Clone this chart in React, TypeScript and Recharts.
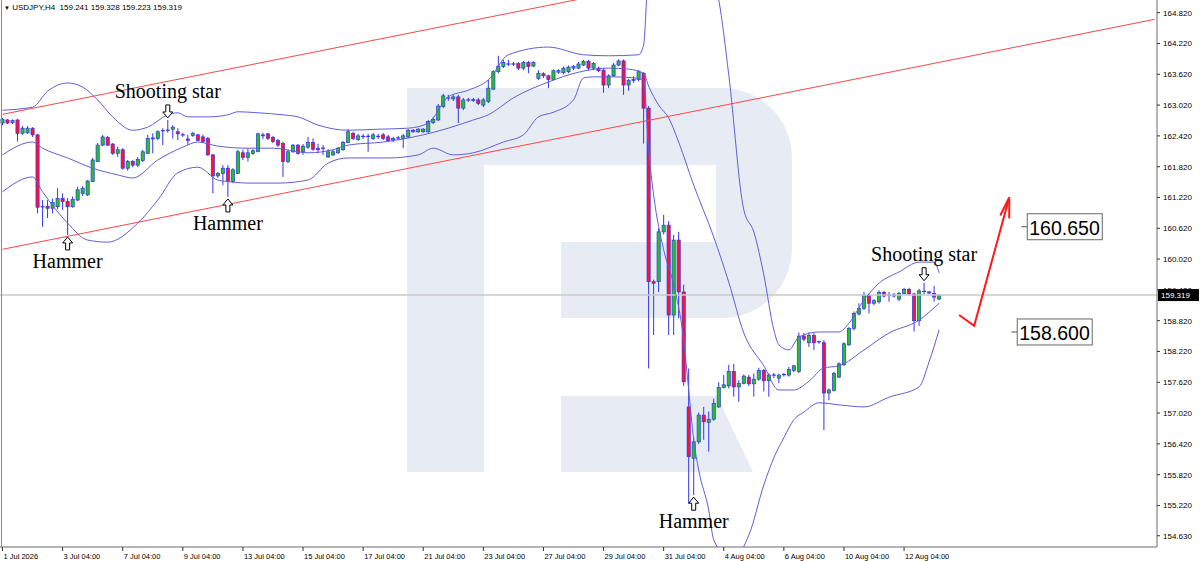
import React from "react";
import {
  Bar,
  ComposedChart,
  Line,
  ReferenceDot,
  ReferenceLine,
  XAxis,
  YAxis,
} from "recharts";

// USDJPY H4 candles (price units)
const OPEN = [
  162.67, 162.73, 162.68, 162.73, 162.47, 162.48, 162.57, 162.44, 161.03, 161.05,
  161.01, 161.04, 161.2, 161.14, 161.04, 161.17, 161.3, 161.27, 161.53, 161.92,
  162.24, 162.39, 162.26, 162.08, 162.15, 161.79, 161.92, 161.85, 161.94, 162.08,
  162.36, 162.37, 162.51, 162.52, 162.55, 162.5, 162.44, 162.36, 162.43, 162.44,
  162.4, 162.37, 162.05, 161.64, 161.69, 161.79, 161.53, 161.69, 162.09, 162.0,
  162.08, 162.11, 162.44, 162.46, 162.39, 162.33, 162.27, 161.92, 162.11, 162.24,
  162.11, 162.2, 162.29, 162.18, 162.17, 162.01, 162.05, 162.09, 162.15, 162.29,
  162.47, 162.35, 162.4, 162.41, 162.37, 162.41, 162.44, 162.4, 162.34, 162.37,
  162.37, 162.4, 162.53, 162.5, 162.5, 162.5, 162.68, 162.73, 162.99, 163.15,
  163.14, 163.18, 162.96, 163.12, 163.11, 163.12, 163.02, 163.09, 163.33, 163.67,
  163.77, 163.82, 163.81, 163.83, 163.74, 163.85, 163.78, 163.54, 163.63, 163.59,
  163.52, 163.66, 163.65, 163.67, 163.74, 163.74, 163.8, 163.87, 163.74, 163.74,
  163.7, 163.41, 163.59, 163.8, 163.88, 163.41, 163.5, 163.52, 163.64, 162.96,
  159.58, 159.58, 160.55, 160.68, 158.93, 160.39, 159.38, 157.14, 156.14, 156.46,
  156.98, 156.84, 156.9, 157.14, 157.52, 157.55, 157.83, 157.53, 157.6, 157.72,
  157.59, 157.68, 157.85, 157.65, 157.76, 157.7, 157.76, 157.76, 157.85, 157.83,
  158.52, 158.39, 158.53, 158.41, 158.39, 157.41, 157.46, 157.72, 157.96, 158.35,
  158.67, 158.95, 159.06, 159.32, 159.16, 159.19, 159.37, 159.32, 159.3, 159.24,
  159.35, 159.43, 159.34, 158.82, 159.39, 159.38, 159.35, 159.241,
];
const HIGH = [
  162.77, 162.75, 162.74, 162.75, 162.61, 162.61, 162.59, 162.46, 161.17, 161.17,
  161.2, 161.4, 161.3, 161.21, 161.24, 161.43, 161.44, 161.56, 161.99, 162.28,
  162.44, 162.42, 162.28, 162.21, 162.18, 161.95, 161.95, 162.01, 162.15, 162.44,
  162.47, 162.53, 162.57, 162.73, 162.63, 162.57, 162.48, 162.44, 162.5, 162.46,
  162.44, 162.4, 162.07, 161.72, 161.85, 161.85, 161.79, 162.15, 162.15, 162.18,
  162.16, 162.48, 162.48, 162.48, 162.42, 162.36, 162.3, 162.15, 162.26, 162.26,
  162.26, 162.4, 162.37, 162.27, 162.24, 162.16, 162.15, 162.2, 162.32, 162.55,
  162.5, 162.46, 162.46, 162.46, 162.48, 162.46, 162.48, 162.44, 162.4, 162.42,
  162.46, 162.55, 162.55, 162.57, 162.57, 162.73, 162.79, 163.04, 163.24, 163.22,
  163.22, 163.22, 163.16, 163.16, 163.16, 163.16, 163.16, 163.51, 163.7, 163.98,
  163.9, 163.9, 163.86, 163.86, 163.88, 163.88, 163.87, 163.7, 163.66, 163.61,
  163.71, 163.72, 163.77, 163.79, 163.8, 163.86, 163.9, 163.9, 163.86, 163.77,
  163.74, 163.62, 163.84, 163.91, 163.91, 163.53, 163.58, 163.7, 163.66, 163.0,
  159.62, 160.62, 160.88, 160.76, 160.49, 160.55, 159.52, 157.89, 156.55, 157.03,
  157.14, 157.05, 157.3, 157.62, 157.76, 157.96, 157.98, 157.66, 157.77, 157.76,
  157.79, 157.9, 157.88, 157.8, 157.8, 157.79, 157.8, 157.92, 157.96, 158.59,
  158.58, 158.59, 158.58, 158.43, 158.44, 157.5, 157.82, 158.01, 158.4, 158.7,
  159.0, 159.16, 159.38, 159.35, 159.24, 159.41, 159.4, 159.38, 159.36, 159.38,
  159.46, 159.46, 159.36, 159.44, 159.56, 159.4, 159.5, 159.328,
];
const LOW = [
  162.63, 162.65, 162.65, 162.31, 162.44, 162.46, 162.4, 160.91, 160.65, 160.82,
  160.91, 160.99, 160.98, 160.49, 161.02, 161.15, 161.25, 161.25, 161.52, 161.91,
  162.22, 162.22, 162.05, 162.01, 161.76, 161.74, 161.81, 161.81, 161.91, 162.07,
  162.08, 162.34, 162.24, 162.48, 162.37, 162.34, 162.4, 162.24, 162.4, 162.32,
  162.28, 162.03, 161.3, 161.6, 161.46, 161.23, 161.5, 161.68, 161.95, 161.92,
  162.05, 162.11, 162.36, 162.34, 162.28, 162.2, 161.62, 161.89, 162.09, 162.05,
  162.05, 162.16, 162.13, 162.08, 162.05, 161.99, 162.03, 162.07, 162.13, 162.28,
  162.34, 162.32, 162.36, 162.11, 162.34, 162.36, 162.34, 162.3, 162.3, 162.34,
  162.18, 162.38, 162.48, 162.48, 162.48, 162.48, 162.65, 162.71, 162.96, 163.1,
  163.1, 162.67, 162.92, 163.08, 163.08, 163.02, 162.98, 163.06, 163.31, 163.64,
  163.74, 163.78, 163.78, 163.7, 163.7, 163.64, 163.76, 163.51, 163.55, 163.35,
  163.5, 163.63, 163.62, 163.64, 163.7, 163.72, 163.78, 163.7, 163.7, 163.66,
  163.26, 163.35, 163.57, 163.78, 163.22, 163.3, 163.45, 163.48, 162.27, 157.89,
  158.54, 159.38, 160.5, 158.54, 158.54, 158.87, 157.55, 155.26, 155.42, 156.42,
  156.5, 156.27, 156.87, 157.12, 157.5, 157.5, 157.34, 157.24, 157.58, 157.55,
  157.34, 157.65, 157.44, 157.34, 157.7, 157.6, 157.73, 157.73, 157.82, 157.8,
  158.42, 158.31, 158.25, 158.37, 156.69, 157.27, 157.44, 157.7, 157.94, 158.33,
  158.63, 158.92, 159.03, 158.96, 159.12, 159.15, 159.27, 159.19, 159.27, 159.2,
  159.33, 159.31, 158.61, 158.72, 159.33, 159.33, 159.19, 159.223,
];
const CLOSE = [
  162.74, 162.67, 162.72, 162.47, 162.57, 162.57, 162.44, 161.03, 161.04, 161.01,
  161.12, 161.2, 161.14, 161.04, 161.18, 161.37, 161.4, 161.54, 161.95, 162.24,
  162.4, 162.24, 162.08, 162.15, 161.79, 161.92, 161.85, 161.96, 162.11, 162.37,
  162.38, 162.5, 162.52, 162.53, 162.59, 162.46, 162.43, 162.33, 162.47, 162.33,
  162.31, 162.05, 161.64, 161.69, 161.79, 161.53, 161.76, 162.11, 162.0, 162.09,
  162.13, 162.46, 162.42, 162.37, 162.31, 162.24, 161.92, 162.11, 162.24, 162.08,
  162.22, 162.29, 162.16, 162.15, 162.18, 162.11, 162.11, 162.18, 162.29, 162.5,
  162.37, 162.42, 162.41, 162.4, 162.44, 162.4, 162.37, 162.33, 162.37, 162.38,
  162.42, 162.53, 162.5, 162.55, 162.55, 162.7, 162.74, 163.0, 163.2, 163.16,
  163.18, 162.96, 163.12, 163.11, 163.13, 163.05, 163.12, 163.35, 163.67, 163.78,
  163.85, 163.81, 163.82, 163.74, 163.85, 163.77, 163.85, 163.64, 163.59, 163.52,
  163.69, 163.69, 163.74, 163.76, 163.77, 163.82, 163.87, 163.74, 163.83, 163.69,
  163.41, 163.59, 163.8, 163.88, 163.41, 163.5, 163.52, 163.67, 162.96, 159.58,
  159.55, 160.55, 160.68, 158.93, 160.39, 159.38, 157.63, 156.17, 156.46, 156.98,
  156.85, 156.9, 157.21, 157.52, 157.57, 157.83, 157.53, 157.6, 157.74, 157.59,
  157.68, 157.85, 157.65, 157.76, 157.75, 157.76, 157.77, 157.87, 157.94, 158.52,
  158.46, 158.53, 158.39, 158.4, 157.41, 157.47, 157.79, 157.98, 158.37, 158.67,
  158.96, 159.06, 159.32, 159.16, 159.21, 159.37, 159.3, 159.31, 159.33, 159.35,
  159.43, 159.34, 158.82, 159.4, 159.38, 159.36, 159.28, 159.319,
];

// Bollinger bands, sampled at candle indexes [index, price]
const BB_UPPER: [number, number][] = [
  [0, 162.92], [6, 162.98], [9, 163.29], [13, 163.45], [16, 163.37], [19, 163.12],
  [22, 162.79], [26, 162.53], [29, 162.59], [33, 162.83], [35, 162.87], [37, 162.79],
  [41, 162.79], [45, 162.83], [47, 162.89], [51, 162.87], [56, 162.83], [59, 162.79],
  [63, 162.63], [69, 162.53], [75, 162.55], [81, 162.57], [85, 162.67], [89, 163.18],
  [93, 163.31], [97, 163.51], [101, 164.0], [109, 164.15], [116, 164.0], [121, 163.98],
  [127, 164.0], [128, 164.19], [129, 165.65], [132, 166.24], [136, 166.43], [140, 165.85],
  [143, 165.07], [145, 163.61], [148, 160.98], [150, 160.55], [152, 159.71], [154, 158.64],
  [155, 158.35], [157, 158.25], [159, 158.5], [163, 158.6], [167, 158.6], [169, 158.77],
  [172, 159.22], [175, 159.55], [179, 159.77], [183, 159.96], [186, 159.96], [187, 159.75],
];
const BB_MIDDLE: [number, number][] = [
  [0, 162.05], [6, 162.3], [8, 162.18], [13, 161.99], [18, 161.79], [23, 161.66],
  [26, 161.6], [31, 161.95], [36, 162.2], [39, 162.3], [43, 162.22], [49, 162.18],
  [54, 162.18], [61, 162.09], [66, 162.15], [69, 162.24], [76, 162.3], [84, 162.44],
  [89, 162.57], [94, 162.73], [97, 162.83], [102, 163.16], [109, 163.47], [115, 163.66],
  [121, 163.74], [125, 163.72], [128, 163.64], [129, 163.39], [131, 163.02], [133, 162.77],
  [135, 162.3], [138, 161.46], [142, 160.45], [145, 159.57], [148, 158.58], [152, 157.94],
  [155, 157.47], [158, 157.47], [161, 157.64], [164, 157.9], [167, 157.94], [172, 158.25],
  [177, 158.58], [183, 158.83], [187, 159.16],
];
const BB_LOWER: [number, number][] = [
  [0, 161.33], [6, 161.62], [8, 161.33], [13, 160.72], [17, 160.39], [21, 160.35],
  [27, 160.72], [31, 161.17], [35, 161.7], [39, 161.81], [43, 161.56], [46, 161.52],
  [49, 161.5], [55, 161.5], [61, 161.56], [65, 161.89], [69, 161.99], [77, 161.99],
  [83, 162.05], [86, 162.18], [90, 162.05], [94, 162.09], [100, 162.3], [104, 162.44],
  [107, 162.79], [110, 162.88], [114, 163.12], [116, 163.55], [118, 163.57], [122, 163.57],
  [126, 163.55], [128, 163.51], [129, 162.15], [130, 161.27], [132, 160.2], [134, 159.52],
  [136, 158.44], [137, 157.47], [138, 156.5], [139, 155.91], [141, 155.13], [142, 154.55],
  [144, 154.32], [147, 154.32], [149, 154.64], [152, 155.62], [154, 156.15], [156, 156.54],
  [158, 156.89], [160, 157.04], [163, 157.22], [167, 157.18], [172, 157.14], [177, 157.33],
  [183, 157.53], [185, 158.02], [187, 158.64],
];

// ascending channel (two red lines), forecast arrow and target levels
const CHANNEL_TOP: [number, number][] = [[0, 162.84], [230, 167.32]];
const CHANNEL_BOTTOM: [number, number][] = [[0, 160.21], [230, 164.69]];
const FORECAST: [number, number][] = [[191, 158.93], [194, 158.72], [201, 161.22]];
const TARGETS: [number, number][] = [[203, 160.65], [201, 158.6]];
const PATTERNS: [number, string][] = [
  [33, "Shooting star"],
  [13, "Hammer"],
  [45, "Hammer"],
  [138, "Hammer"],
  [184, "Shooting star"],
];
const LAST_PRICE = 159.319;

const X_LABELS: [number, string][] = [
  [0, "1 Jul 2026"], [12, "3 Jul 04:00"], [24, "7 Jul 04:00"], [36, "9 Jul 04:00"],
  [48, "13 Jul 04:00"], [60, "15 Jul 04:00"], [72, "17 Jul 04:00"], [84, "21 Jul 04:00"],
  [96, "23 Jul 04:00"], [108, "27 Jul 04:00"], [120, "29 Jul 04:00"], [132, "31 Jul 04:00"],
  [144, "4 Aug 04:00"], [156, "6 Aug 04:00"], [168, "10 Aug 04:00"], [180, "12 Aug 04:00"],
];
const Y_TICKS = [
  164.82, 164.22, 163.62, 163.02, 162.42, 161.82, 161.22, 160.62, 160.02,
  159.42, 158.82, 158.22, 157.62, 157.02, 156.42, 155.82, 155.22, 154.63,
];

const SLOTS = 231; // candles plus the empty space on the right
const BULL = "#22c322";
const BEAR = "#ff1133";
const WICK = "#3434ee";
const BAND = "#5f5fd8";
const CHANNEL = "#ff4747";
const SANS = "'Liberation Sans', Arial, sans-serif";
const SERIF = "'Liberation Serif', 'Times New Roman', serif";

type Row = {
  i: number;
  range?: [number, number];
  o?: number;
  h?: number;
  l?: number;
  c?: number;
  up?: number;
  mid?: number;
  dn?: number;
  chTop?: number;
  chBot?: number;
  fc?: number;
};

const rows: Row[] = Array.from({ length: SLOTS }, (_, i) => ({ i }));
OPEN.forEach((o, i) => {
  Object.assign(rows[i], {
    o,
    h: HIGH[i],
    l: LOW[i],
    c: CLOSE[i],
    range: [LOW[i], HIGH[i]],
  });
});
for (const [i, v] of BB_UPPER) rows[i].up = v;
for (const [i, v] of BB_MIDDLE) rows[i].mid = v;
for (const [i, v] of BB_LOWER) rows[i].dn = v;
for (const [i, v] of CHANNEL_TOP) rows[i].chTop = v;
for (const [i, v] of CHANNEL_BOTTOM) rows[i].chBot = v;
for (const [i, v] of FORECAST) rows[i].fc = v;

const labelAt = new Map(X_LABELS);

function Candle(props: any) {
  const { x, y, width, height, payload } = props;
  if (!payload || payload.o == null) return <g />;
  const { o, h, l, c } = payload;
  const top = Math.min(y, y + height);
  const span = Math.abs(height);
  const cx = x + width / 2;
  // place open/close inside the high-low bar the library drew
  const py = (p: number) => (h === l ? top : top + ((h - p) / (h - l)) * span);
  const y1 = py(Math.max(o, c));
  const y2 = py(Math.min(o, c));
  return (
    <g>
      <line x1={cx} x2={cx} y1={top} y2={top + span} stroke={WICK} strokeWidth={1} />
      {y2 - y1 < 1 ? (
        <line x1={cx - 2} x2={cx + 2} y1={y1} y2={y1} stroke={WICK} strokeWidth={1.2} />
      ) : (
        <rect
          x={cx - 1.6}
          y={y1}
          width={3.2}
          height={y2 - y1}
          fill={c > o ? BULL : BEAR}
          stroke={WICK}
          strokeWidth={0.7}
        />
      )}
    </g>
  );
}

function PatternMark({ cx, cy, name }: { cx: number; cy: number; name: string }) {
  const down = name !== "Hammer";
  if (down) {
    const tip = cy - 2;
    const pts = [
      [cx, tip], [cx - 5, tip - 6], [cx - 2, tip - 6], [cx - 2, tip - 13],
      [cx + 2, tip - 13], [cx + 2, tip - 6], [cx + 5, tip - 6],
    ];
    return (
      <g>
        <polygon points={pts.map((p) => p.join(",")).join(" ")} fill="#fff" stroke="#000" strokeWidth={1} />
        <text x={cx} y={tip - 20} textAnchor="middle" fontFamily={SERIF} fontSize={20} fill="#000">
          {name}
        </text>
      </g>
    );
  }
  const tip = cy + 2;
  const pts = [
    [cx, tip], [cx - 5, tip + 6], [cx - 2, tip + 6], [cx - 2, tip + 13],
    [cx + 2, tip + 13], [cx + 2, tip + 6], [cx + 5, tip + 6],
  ];
  return (
    <g>
      <polygon points={pts.map((p) => p.join(",")).join(" ")} fill="#fff" stroke="#000" strokeWidth={1} />
      <text x={cx} y={tip + 31} textAnchor="middle" fontFamily={SERIF} fontSize={20} fill="#000">
        {name}
      </text>
    </g>
  );
}

function TargetMark({ cx, cy, value }: { cx: number; cy: number; value: number }) {
  return (
    <g>
      <line x1={cx + 2} x2={cx + 8} y1={cy} y2={cy} stroke="#555" strokeWidth={1} />
      <rect x={cx + 8} y={cy - 13} width={75} height={26} fill="#fff" stroke="#666" strokeWidth={1} />
      <text x={cx + 10} y={cy + 8} fontFamily={SANS} fontSize={19.5} fill="#000">
        {value.toFixed(3)}
      </text>
    </g>
  );
}

function PriceTag(props: any) {
  const vb = props.viewBox || {};
  const x = (vb.x ?? 0) + (vb.width ?? 0);
  const y = vb.y ?? 0;
  return (
    <g>
      <rect x={x + 1} y={y - 6} width={41} height={12} fill="#000" />
      <text x={x + 4} y={y + 3} fontFamily={SANS} fontSize={8} fill="#fff">
        {LAST_PRICE.toFixed(3)}
      </text>
    </g>
  );
}

function XTick({ x, y, payload }: any) {
  return (
    <text x={x + 1} y={y + 6} fontFamily={SANS} fontSize={7.5} fill="#000" textAnchor="start">
      {labelAt.get(payload.value)}
    </text>
  );
}

function YTick({ x, y, payload }: any) {
  return (
    <text x={x + 1} y={y + 3} fontFamily={SANS} fontSize={8} fill="#000" textAnchor="start">
      {Number(payload.value).toFixed(3)}
    </text>
  );
}

function ArrowTip(props: any) {
  const { cx, cy, index } = props;
  const last = FORECAST[FORECAST.length - 1][0];
  if (index !== last || cx == null || cy == null) return <g key={`fc-${index}`} />;
  return (
    <path
      key="fc-tip"
      d={`M${cx - 9},${cy + 18} L${cx},${cy} L${cx},${cy + 21}`}
      stroke="#ff1a1a"
      strokeWidth={2}
      fill="none"
    />
  );
}

function Watermark() {
  return (
    <svg width={1200} height={561} style={{ position: "absolute", left: 0, top: 0 }}>
      <g fill="#e7ecf4">
        <rect x={407} y={88} width={77} height={384} />
        <path d="M484,88 H722 A70,70 0 0 1 792,158 V248 A70,70 0 0 1 722,318 H561 V242 H716 V165 H484 Z" />
        <path d="M561,396 H717 L753,472 H561 Z" />
      </g>
    </svg>
  );
}

const lineProps = {
  dot: false,
  activeDot: false,
  connectNulls: true,
  isAnimationActive: false,
  strokeWidth: 1,
} as const;

export default function App() {
  return (
    <div
      style={{
        position: "absolute",
        left: 0,
        top: 0,
        width: 1200,
        height: 561,
        background: "#fff",
        overflow: "hidden",
      }}
    >
      <Watermark />
      <div style={{ position: "absolute", left: 0, top: 0 }}>
        <ComposedChart
          width={1200}
          height={561}
          data={rows}
          margin={{ top: 0, right: 0, bottom: 0, left: 0 }}
        >
          <XAxis
            dataKey="i"
            type="category"
            ticks={X_LABELS.map((d) => d[0])}
            interval={0}
            height={14}
            tick={<XTick />}
            tickSize={4}
            tickMargin={2}
            axisLine={{ stroke: "#6a6a6a" }}
            tickLine={{ stroke: "#333" }}
          />
          <YAxis
            orientation="right"
            width={43}
            domain={[154.411, 165.067]}
            allowDataOverflow
            ticks={Y_TICKS}
            interval={0}
            tick={<YTick />}
            tickSize={3}
            tickMargin={2}
            axisLine={{ stroke: "#6a6a6a" }}
            tickLine={{ stroke: "#333" }}
          />
          <ReferenceLine
            y={LAST_PRICE}
            stroke="#cacaca"
            strokeWidth={1.5}
            label={(p: any) => <PriceTag viewBox={p.viewBox} />}
          />
          <Line dataKey="chTop" stroke={CHANNEL} type="linear" {...lineProps} />
          <Line dataKey="chBot" stroke={CHANNEL} type="linear" {...lineProps} />
          <Line dataKey="up" stroke={BAND} type="monotone" {...lineProps} />
          <Line dataKey="mid" stroke={BAND} type="monotone" {...lineProps} />
          <Line dataKey="dn" stroke={BAND} type="monotone" {...lineProps} />
          <Bar dataKey="range" barSize={5} shape={<Candle />} isAnimationActive={false} />
          <Line
            dataKey="fc"
            stroke="#ff1a1a"
            strokeWidth={2}
            connectNulls
            type="linear"
            dot={(p: any) => <ArrowTip {...p} key={`fc-${p.index}`} />}
            activeDot={false}
            isAnimationActive={false}
          />
          {TARGETS.map(([i, v]) => (
            <ReferenceDot
              key={`t-${i}`}
              x={i}
              y={v}
              shape={(p: any) => <TargetMark cx={p.cx} cy={p.cy} value={v} />}
            />
          ))}
          {PATTERNS.map(([i, name]) => (
            <ReferenceDot
              key={`p-${i}`}
              x={i}
              y={name === "Hammer" ? LOW[i] : HIGH[i]}
              shape={(p: any) => <PatternMark cx={p.cx} cy={p.cy} name={name} />}
            />
          ))}
        </ComposedChart>
      </div>
      <div style={{ position: "absolute", left: 1, top: 0, width: 1, height: 547, background: "#8a8a8a" }} />
      <div
        style={{
          position: "absolute",
          left: 4,
          top: 3,
          fontFamily: SANS,
          fontSize: 8,
          color: "#000",
          whiteSpace: "pre",
          lineHeight: "10px",
        }}
      >
        <span style={{ fontSize: 6 }}>▼</span> USDJPY,H4  159.241 159.328 159.223 159.319
      </div>
    </div>
  );
}
